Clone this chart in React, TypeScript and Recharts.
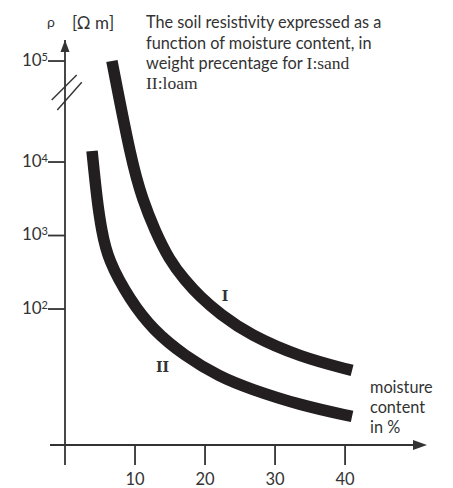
import {
  LineChart,
  Line,
  XAxis,
  YAxis,
  ReferenceLine,
  ReferenceDot,
} from "recharts";

// moisture content (%) and resistivity (Ohm m)
const sandX = [6.7, 9.5, 11.1, 12.8, 14.9, 17.1, 19.3, 22.1, 26.4, 33.6, 41];
const sandRho = [100000, 10000, 3040, 1190, 464, 248, 146, 85.5, 44.3, 22.2, 14.6];
const loamX = [3.86, 4.57, 5.21, 6.14, 9.29, 12.57, 17.1, 22.1, 26.4, 33.6, 41];
const loamRho = [12850, 3040, 1190, 464, 132, 51.8, 23, 11.9, 8.2, 4.9, 3.45];

const xTicks = [0, 10, 20, 30, 40];
const yExponents = [2, 3, 4, 5];

const INK = "#333";
const CURVE = "#231f20";
const BREAK = 1.374; // the 10^4..10^5 decade is stretched by the axis break

// log10 axis, with the decade above the break drawn taller
const toAxis = (rho: number) => {
  const l = Math.log10(rho);
  return l <= 4 ? l : 4 + (l - 4) * BREAK;
};

const sand = sandX.map((x, i) => ({ x, y: toAxis(sandRho[i]) }));
const loam = loamX.map((x, i) => ({ x, y: toAxis(loamRho[i]) }));
const yTicks = yExponents.map((e) => toAxis(Math.pow(10, e)));

const Y_MIN = 0.15;
const Y_MAX = 5.66;
const X_MAX = 51.7;

function YTick(props: any) {
  const { x, y, index } = props;
  return (
    <text
      x={x}
      y={y + 4.8}
      textAnchor="end"
      fill={INK}
      fontSize={17}
      fontFamily="Lato, sans-serif"
    >
      10
      <tspan dy={-5} fontSize={11}>
        {yExponents[index]}
      </tspan>
    </text>
  );
}

const upArrow = (p: any) => (
  <path
    d={`M${p.cx},${p.cy} L${p.cx - 4.5},${p.cy + 12} L${p.cx + 4.5},${p.cy + 12} Z`}
    fill={INK}
  />
);

const rightArrow = (p: any) => (
  <path
    d={`M${p.cx},${p.cy} L${p.cx - 14},${p.cy - 5} L${p.cx - 14},${p.cy + 5} Z`}
    fill={INK}
  />
);

export default function App() {
  return (
    <div
      style={{
        position: "absolute",
        left: 0,
        top: 0,
        width: 453,
        height: 488,
        background: "#fff",
      }}
    >
      <LineChart
        width={453}
        height={488}
        margin={{ top: 40, right: 26, bottom: 0, left: 20 }}
      >
        <XAxis
          type="number"
          dataKey="x"
          domain={[0, X_MAX]}
          allowDataOverflow
          ticks={xTicks}
          interval={0}
          height={43}
          axisLine={false}
          tickSize={20}
          tickMargin={8}
          tickLine={{ stroke: INK, strokeWidth: 1.8 }}
          tick={{ fill: INK, fontSize: 16.5, fontFamily: "Lato, sans-serif" }}
          tickFormatter={(v: number) => (v === 0 ? "" : String(v))}
        />
        <YAxis
          type="number"
          domain={[Y_MIN, Y_MAX]}
          allowDataOverflow
          ticks={yTicks}
          interval={0}
          width={45}
          axisLine={{ stroke: INK, strokeWidth: 1.8 }}
          tickSize={17}
          tickMargin={0}
          tickLine={{ stroke: INK, strokeWidth: 1.8 }}
          tick={<YTick />}
        />
        <ReferenceLine
          segment={[
            { x: -2.14, y: Y_MIN },
            { x: X_MAX - 1, y: Y_MIN },
          ]}
          stroke={INK}
          strokeWidth={1.8}
          ifOverflow="visible"
        />
        <ReferenceLine
          segment={[
            { x: -1.9, y: 4.844 },
            { x: 1.67, y: 5.184 },
          ]}
          stroke={INK}
          strokeWidth={1.4}
          ifOverflow="visible"
        />
        <ReferenceLine
          segment={[
            { x: -1.1, y: 4.707 },
            { x: 2.39, y: 5.084 },
          ]}
          stroke={INK}
          strokeWidth={1.4}
          ifOverflow="visible"
        />
        <ReferenceDot x={0} y={Y_MAX} ifOverflow="visible" shape={upArrow} />
        <ReferenceDot x={X_MAX} y={Y_MIN} ifOverflow="visible" shape={rightArrow} />
        <Line
          data={sand}
          dataKey="y"
          type="basis"
          stroke={CURVE}
          strokeWidth={11.5}
          dot={false}
          isAnimationActive={false}
        />
        <Line
          data={loam}
          dataKey="y"
          type="basis"
          stroke={CURVE}
          strokeWidth={11.5}
          dot={false}
          isAnimationActive={false}
        />
      </LineChart>
      <svg
        width={453}
        height={488}
        style={{ position: "absolute", left: 0, top: 0, pointerEvents: "none" }}
      >
        <g fill={INK} fontFamily="Lato, sans-serif" fontSize={16.3}>
          <text x={47} y={27} fontSize={14}>ρ</text>
          <text x={72} y={29} fontSize={17}>[Ω m]</text>
          <text x={146} y={28}>The soil resistivity expressed as a</text>
          <text x={146} y={48.5}>function of moisture content, in</text>
          <text x={146} y={69}>
            weight precentage for{" "}
            <tspan fontFamily="Liberation Serif, serif" fontSize={17.5}>I:sand</tspan>
          </text>
          <text x={146} y={89} fontFamily="Liberation Serif, serif" fontSize={17.5}>II:loam</text>
          <text x={370} y={393}>moisture</text>
          <text x={370} y={413}>content</text>
          <text x={370} y={433}>in %</text>
        </g>
        <g fill={INK} fontFamily="DejaVu Serif, serif" fontSize={14} fontWeight="bold" textAnchor="middle">
          <text x={225} y={301}>I</text>
          <text x={162.5} y={372}>II</text>
        </g>
      </svg>
    </div>
  );
}
